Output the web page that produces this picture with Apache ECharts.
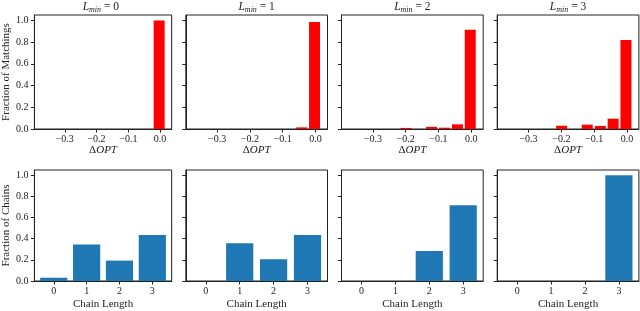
<!DOCTYPE html>
<html>
<head>
<meta charset="utf-8">
<script src="https://cdn.jsdelivr.net/npm/echarts@6/dist/echarts.min.js"></script>
<style>html,body{margin:0;padding:0;background:#fff}#c{width:640px;height:311px}</style>
</head>
<body>
<div id="c"></div>
<script>
// ---- data ----
const lminValues = [0, 1, 2, 3];
const deltaOptBinCenters = [-0.356, -0.317, -0.278, -0.239, -0.199, -0.160, -0.121, -0.081, -0.042, -0.003];
const matchFracL0 = [0, 0, 0, 0, 0, 0, 0, 0, 0, 1.0];
const matchFracL1 = [0, 0, 0, 0, 0, 0, 0, 0, 0.015, 0.985];
const matchFracL2 = [0, 0, 0, 0, 0.010, 0, 0.020, 0.012, 0.043, 0.915];
const matchFracL3 = [0, 0, 0, 0, 0.030, 0, 0.040, 0.028, 0.095, 0.819];
const chainLengths = [0, 1, 2, 3];
const chainFracL0 = [0.031, 0.345, 0.193, 0.434];
const chainFracL1 = [0, 0.358, 0.206, 0.436];
const chainFracL2 = [0, 0, 0.284, 0.716];
const chainFracL3 = [0, 0, 0, 1.0];
const deltaOptTicks = [-0.3, -0.2, -0.1, 0.0];
const fracTicks = [0, 0.2, 0.4, 0.6, 0.8, 1.0];
const chainTicks = [0, 1, 2, 3];

const matchFracs = [matchFracL0, matchFracL1, matchFracL2, matchFracL3];
const chainFracs = [chainFracL0, chainFracL1, chainFracL2, chainFracL3];

// ---- layout / style ----
const FONT = '"Liberation Serif", "DejaVu Serif", serif';
const INK = '#222';
const lefts = [30, 185.8, 341.5, 497.2];
const W = 141.7;
const topRow = {top: 15, height: 114};
const botRow = {top: 170, height: 114.3};

const fmt1 = v => (Math.abs(v) < 1e-9 ? '0.0' : v.toFixed(1).replace('-', '\u2212'));

const grids = [], xAxes = [], yAxes = [], series = [], titles = [];
const lineStyle = {color: INK, width: 1};

lefts.forEach((l, i) => {
  grids.push({left: l, top: topRow.top, width: W, height: topRow.height, show: true, borderColor: INK, borderWidth: 1, containLabel: false});
  grids.push({left: l, top: botRow.top, width: W, height: botRow.height, show: true, borderColor: INK, borderWidth: 1, containLabel: false});
  titles.push({
    text: '{i|L}{s|min}{n| = ' + lminValues[i] + '}',
    left: l + W / 2, top: 0, padding: 0, textAlign: 'center',
    textStyle: {
      fontWeight: 'normal',
      rich: {
        i: {fontFamily: FONT, fontStyle: 'italic', fontWeight: 'normal', fontSize: 11.5, color: INK, lineHeight: 14},
        s: {fontFamily: FONT, fontStyle: 'italic', fontWeight: 'normal', fontSize: 8, color: INK, padding: [5, 0, 0, 0], lineHeight: 14},
        n: {fontFamily: FONT, fontWeight: 'normal', fontSize: 11.5, color: INK, lineHeight: 14}
      }
    }
  });
});

for (let i = 0; i < 4; i++) {
  const gTop = 2 * i, gBot = 2 * i + 1;
  xAxes.push({
    gridIndex: gTop, type: 'value', min: -0.3955, max: 0.0365,
    axisLine: {show: true, onZero: false, lineStyle},
    axisTick: {show: true, customValues: deltaOptTicks, length: 3.5, lineStyle},
    axisLabel: {customValues: deltaOptTicks, formatter: fmt1, fontFamily: FONT, fontSize: 10, color: INK, margin: 5},
    splitLine: {show: false},
    name: '{n|\u0394}{i|OPT}', nameLocation: 'middle', nameGap: 16,
    nameTextStyle: {rich: {
      n: {fontFamily: FONT, fontSize: 11, color: INK},
      i: {fontFamily: FONT, fontSize: 11, fontStyle: 'italic', color: INK}
    }}
  });
  xAxes.push({
    gridIndex: gBot, type: 'value', min: -0.59, max: 3.59,
    axisLine: {show: true, onZero: false, lineStyle},
    axisTick: {show: true, customValues: chainTicks, length: 3.5, lineStyle},
    axisLabel: {customValues: chainTicks, formatter: v => String(Math.round(v)), fontFamily: FONT, fontSize: 10, color: INK, margin: 5},
    splitLine: {show: false},
    name: 'Chain Length', nameLocation: 'middle', nameGap: 18,
    nameTextStyle: {fontFamily: FONT, fontSize: 11, color: INK}
  });
  const yBase = (g, name) => ({
    gridIndex: g, type: 'value', min: 0, max: 1.05,
    axisLine: {show: true, onZero: false, lineStyle},
    axisTick: {show: true, customValues: fracTicks, length: 3.5, lineStyle},
    axisLabel: {show: i === 0, customValues: fracTicks, formatter: fmt1, fontFamily: FONT, fontSize: 10, color: INK, margin: 6},
    splitLine: {show: false},
    name: i === 0 ? name : '', nameLocation: 'middle', nameGap: 20,
    nameTextStyle: {fontFamily: FONT, fontSize: 11, color: INK}
  });
  yAxes.push(yBase(gTop, 'Fraction of Matchings'));
  yAxes.push(yBase(gBot, 'Fraction of Chains'));

  series.push({
    type: 'bar', xAxisIndex: gTop, yAxisIndex: gTop, barWidth: 11,
    itemStyle: {color: '#ff0000'}, silent: true, animation: false,
    data: deltaOptBinCenters.map((x, k) => [x, matchFracs[i][k]])
  });
  series.push({
    type: 'bar', xAxisIndex: gBot, yAxisIndex: gBot, barWidth: 27.2,
    itemStyle: {color: '#1f77b4'}, silent: true, animation: false,
    data: chainLengths.map((x, k) => [x, chainFracs[i][k]])
  });
}

const chart = echarts.init(document.getElementById('c'), null, {renderer: 'canvas'});
chart.setOption({
  backgroundColor: '#fff',
  animation: false,
  title: titles,
  grid: grids,
  xAxis: xAxes,
  yAxis: yAxes,
  series: series
});
</script>
</body>
</html>
